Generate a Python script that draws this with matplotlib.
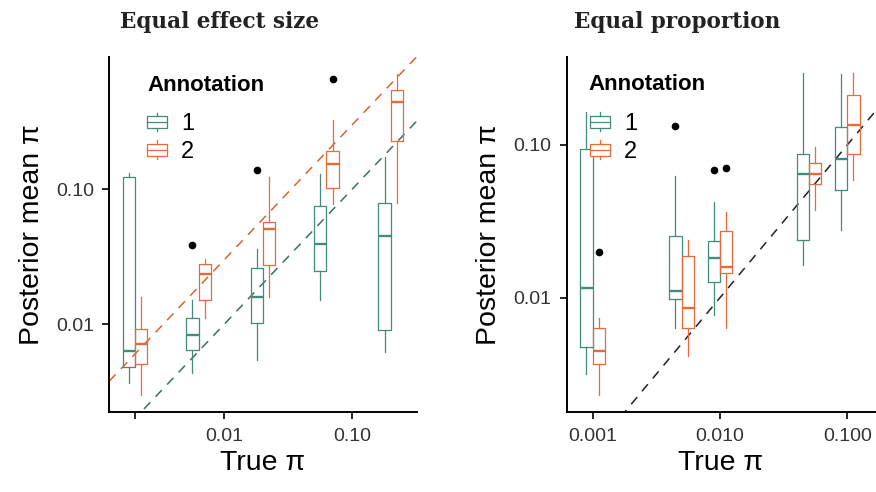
import matplotlib
matplotlib.use('agg')
import matplotlib.pyplot as plt
from matplotlib.legend_handler import HandlerBase
from matplotlib.patches import Rectangle
from matplotlib.lines import Line2D
import numpy as np

plt.rcParams['font.family'] = ['Liberation Sans', 'DejaVu Sans']

green = '#438c7b'
orange = '#e8693b'
green_line = '#3d6f66'
orange_line = '#d9642f'

# box stats per group: (whisker low, q1, median, q3, whisker high)
# --- Equal effect size ---
effect_true = [0.002, 0.0063, 0.02, 0.063, 0.2]
effect_a1 = [(0.0037, 0.0048, 0.0063, 0.1227, 0.1316),
             (0.00436, 0.00641, 0.0083, 0.01114, 0.01524),
             (0.0054, 0.0103, 0.0158, 0.0259, 0.0360),
             (0.0151, 0.0248, 0.0396, 0.0757, 0.129),
             (0.00624, 0.00914, 0.0454, 0.0796, 0.1734)]
effect_a2 = [(0.00298, 0.00512, 0.00711, 0.0092, 0.0159),
             (0.01114, 0.01524, 0.0234, 0.0281, 0.0306),
             (0.0159, 0.0274, 0.0511, 0.0573, 0.1233),
             (0.0774, 0.103, 0.153, 0.192, 0.328),
             (0.0794, 0.228, 0.441, 0.541, 0.711)]
# outliers: (group index, value)
effect_out_a1 = [(1, 0.0389), (2, 0.140)]
effect_out_a2 = [(3, 0.660)]
effect_slope = [1.0, 3.0]  # dashed reference lines y = c * x

# --- Equal proportion ---
prop_true = [0.001, 0.005, 0.01, 0.05, 0.1]
prop_a1 = [(0.00316, 0.00477, 0.01153, 0.0937, 0.165),
           (0.00637, 0.00976, 0.0111, 0.0255, 0.0629),
           (0.0077, 0.01262, 0.01812, 0.0236, 0.0426),
           (0.01636, 0.0239, 0.0643, 0.0869, 0.297),
           (0.0277, 0.0507, 0.0806, 0.1318, 0.292)]
prop_a2 = [(0.00231, 0.00366, 0.00448, 0.00637, 0.0074),
           (0.00415, 0.00637, 0.00852, 0.0188, 0.0239),
           (0.0063, 0.01459, 0.01597, 0.0275, 0.0366),
           (0.0374, 0.0553, 0.0646, 0.0759, 0.0975),
           (0.059, 0.0873, 0.135, 0.213, 0.297)]
prop_out_a1 = [(1, 0.133), (2, 0.0686)]
prop_out_a2 = [(0, 0.020), (2, 0.0703)]


class BoxKey(HandlerBase):
    def create_artists(self, legend, orig, xd, yd, w, h, fontsize, trans):
        c = orig.get_edgecolor()
        x0, y0 = -xd, -yd
        lw = 0.9
        box = Rectangle((x0, y0 + 0.18 * h), w, 0.64 * h, facecolor='white',
                        edgecolor=c, lw=lw, transform=trans)
        med = Line2D([x0, x0 + w], [y0 + 0.5 * h] * 2, color=c, lw=lw, transform=trans)
        wl = Line2D([x0 + w / 2] * 2, [y0, y0 + 0.18 * h], color=c, lw=lw, transform=trans)
        wh = Line2D([x0 + w / 2] * 2, [y0 + 0.82 * h, y0 + h], color=c, lw=lw, transform=trans)
        return [box, med, wl, wh]


def make_stats(rows, outs):
    st = []
    for i, (lo, q1, med, q3, hi) in enumerate(rows):
        fl = [v for g, v in outs if g == i]
        st.append(dict(whislo=lo, q1=q1, med=med, q3=q3, whishi=hi, fliers=fl))
    return st


def draw_panel(ax, true, a1, a2, out1, out2, slopes, line_cols, xlim, ylim,
               xticks, xlabels, yticks, ylabels, w):
    pos = np.log10(true)
    for rows, outs, col, off in [(a1, out1, green, -w / 2), (a2, out2, orange, w / 2)]:
        ax.bxp(make_stats(rows, outs), positions=pos + off, widths=w,
               showcaps=False, manage_ticks=False,
               boxprops=dict(color=col, lw=0.9),
               whiskerprops=dict(color=col, lw=0.9),
               medianprops=dict(color=col, lw=1.7),
               flierprops=dict(marker='o', markerfacecolor='black',
                               markeredgecolor='black', markersize=4.5))
    xs = np.array(xlim)
    for c, lc in zip(slopes, line_cols):
        ax.plot(xs, c * 10 ** xs, color=lc, lw=1.1, linestyle=(0, (6, 5)), zorder=0.5)
    ax.set_yscale('log')
    ax.set_xlim(xlim)
    ax.set_ylim(ylim)
    ax.set_xticks(xticks, xlabels)
    ax.set_yticks(yticks, ylabels)
    ax.minorticks_off()
    ax.yaxis.set_minor_locator(matplotlib.ticker.NullLocator())
    for s in ['top', 'right']:
        ax.spines[s].set_visible(False)
    for s in ['left', 'bottom']:
        ax.spines[s].set_linewidth(1.4)
    ax.tick_params(length=5, width=1.2, labelsize=14, colors='black',
                   labelcolor='#333333', pad=6)
    ax.set_xlabel('True π', fontsize=20.5, labelpad=4)
    ax.set_ylabel('Posterior mean π', fontsize=20.5, labelpad=8)
    handles = [Rectangle((0, 0), 1, 1, edgecolor=green, facecolor='white'),
               Rectangle((0, 0), 1, 1, edgecolor=orange, facecolor='white')]
    leg = ax.legend(handles, ['1', '2'], handler_map={Rectangle: BoxKey()},
                    loc='upper left', frameon=False, fontsize=17,
                    handlelength=0.85, handleheight=0.85, handletextpad=0.6,
                    labelspacing=0.22, borderaxespad=0)
    return leg


fig = plt.figure(figsize=(8.76, 4.92), dpi=100)
ax1 = fig.add_axes([109.3 / 876, 1 - 412.3 / 492, 307.4 / 876, 355.3 / 492])
ax2 = fig.add_axes([566.7 / 876, 1 - 412.3 / 492, 308.3 / 876, 355.6 / 492])

leg1 = draw_panel(ax1, effect_true, effect_a1, effect_a2, effect_out_a1, effect_out_a2,
                  effect_slope, [green_line, orange_line],
                  (-2.898, -0.495), (10 ** -2.652, 10 ** -0.02),
                  [np.log10(0.002), -2, -1], ['', '0.01', '0.10'],
                  [0.01, 0.1], ['0.01', '0.10'], 0.095)
leg1.set_bbox_to_anchor((0.092, 0.87), transform=ax1.transAxes)
ax1.text(0.123, 0.921, 'Annotation', transform=ax1.transAxes, ha='left', va='center',
         fontsize=16, weight='bold')

leg2 = draw_panel(ax2, prop_true, prop_a1, prop_a2, prop_out_a1, prop_out_a2,
                  [1.0], ['#222222'],
                  (-3.204, -0.782), (10 ** -2.75, 10 ** -0.422),
                  [-3, -2, -1], ['0.001', '0.010', '0.100'],
                  [0.01, 0.1], ['0.01', '0.10'], 0.097)
leg2.set_bbox_to_anchor((0.044, 0.87), transform=ax2.transAxes)
ax2.text(0.069, 0.921, 'Annotation', transform=ax2.transAxes, ha='left', va='center',
         fontsize=16, weight='bold')

fig.text(220 / 876, 1 - 22 / 492, 'Equal effect size', ha='center', va='center',
         family='DejaVu Serif', weight='bold', fontsize=15.5, color='#222222')
fig.text(677 / 876, 1 - 22 / 492, 'Equal proportion', ha='center', va='center',
         family='DejaVu Serif', weight='bold', fontsize=15.5, color='#222222')

fig.savefig('out.png', dpi=100)
